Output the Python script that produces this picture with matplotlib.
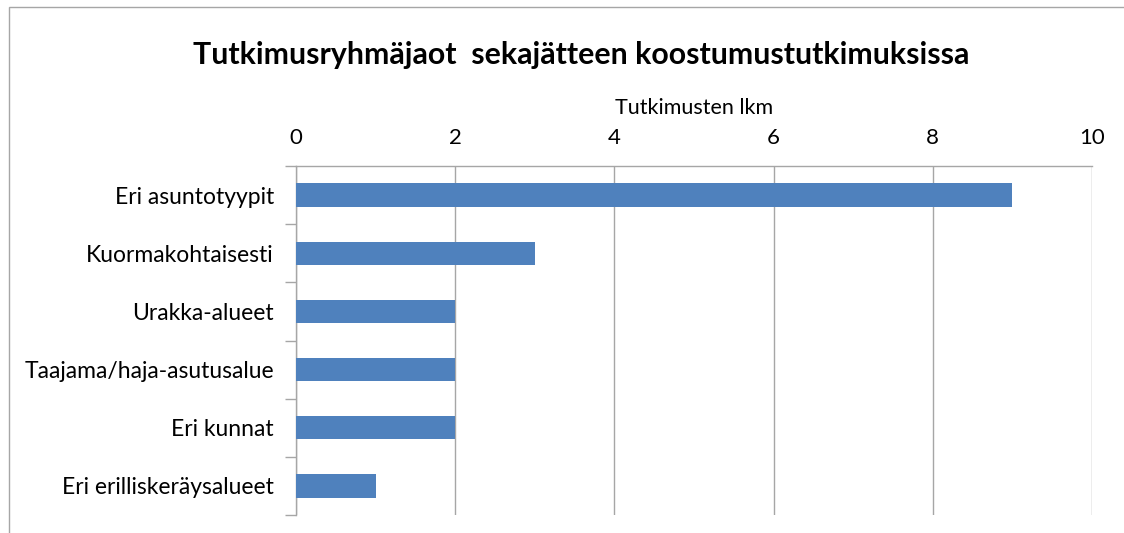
import matplotlib
matplotlib.use("Agg")
import matplotlib.pyplot as plt
from matplotlib.patches import Rectangle

categories = ["Eri asuntotyypit", "Kuormakohtaisesti", "Urakka-alueet",
              "Taajama/haja-asutusalue", "Eri kunnat", "Eri erilliskeräysalueet"]
values = [9, 3, 2, 2, 2, 1]
xticks = [0, 2, 4, 6, 8, 10]
title = "Tutkimusryhmäjaot  sekajätteen koostumustutkimuksissa"
xlabel = "Tutkimusten lkm"

plt.rcParams['font.family'] = ['Lato', 'DejaVu Sans']

W, H = 1124, 533
fig = plt.figure(figsize=(W / 100, H / 100), dpi=100)
fig.patch.set_facecolor("white")

# outer chart frame (left & top visible)
fig.add_artist(Rectangle((9 / W, -0.1), 1.2, (H - 7) / H + 0.1, transform=fig.transFigure,
                         fill=False, edgecolor="#a6a6a6", linewidth=1.0))

ax = fig.add_axes([296 / W, 1 - 515 / H, (1092 - 296) / W, (515 - 166) / H])
n = len(categories)
ypos = list(range(n))
ax.barh(ypos, values, height=0.4, color="#4f81bd", zorder=3)
ax.set_ylim(n - 0.5, -0.5)
ax.set_xlim(0, 10)

ax.xaxis.tick_top()
ax.xaxis.set_label_position("top")
ax.set_xticks(xticks)
ax.set_xticklabels([str(t) for t in xticks], fontsize=16, color="#000000")
ax.tick_params(axis="x", length=0, pad=13)
ax.set_xlabel(xlabel, fontsize=15.5, labelpad=10)

ax.set_yticks([i + 0.5 for i in range(-1, n)], minor=False)
ax.set_yticklabels([])
ax.set_yticks(ypos, minor=True)
ax.set_yticklabels(categories, minor=True, fontsize=16.5)
ax.tick_params(axis="y", which="major", length=8, color="#a6a6a6", width=1)
ax.tick_params(axis="y", which="minor", length=0, pad=16)

ax.grid(axis="x", color="#a6a6a6", linewidth=1, zorder=0)
for s in ["bottom", "right"]:
    ax.spines[s].set_visible(False)
for s in ["top", "left"]:
    ax.spines[s].set_color("#a6a6a6")
    ax.spines[s].set_linewidth(1)

fig.text(581 / W, 1 - 55 / H, title, ha="center", va="center",
         fontsize=21.8, fontweight="bold")

fig.savefig("out.png", dpi=100)
